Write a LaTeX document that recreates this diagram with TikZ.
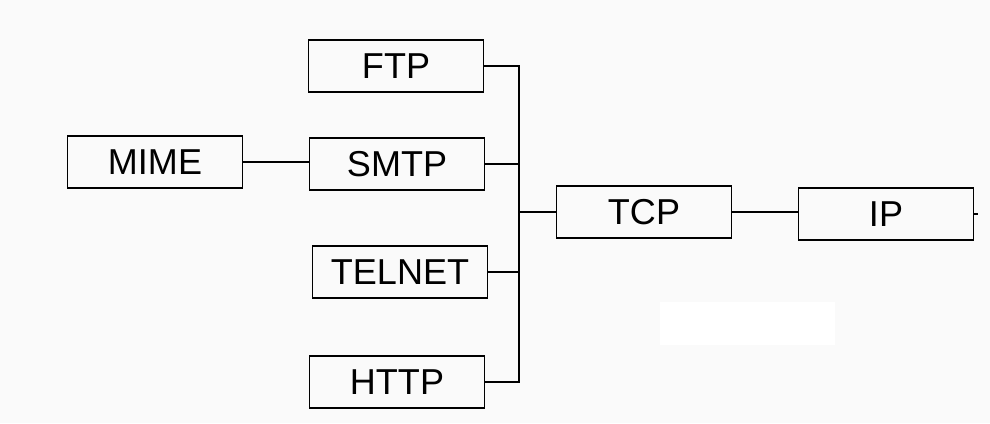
\documentclass[tikz,border=0pt]{standalone}
\usepackage{fontspec}
\setmainfont{Liberation Sans}
\tikzset{
  proto/.style={draw, line width=1.1pt, minimum width=3.5cm, minimum height=1.04cm,
    inner sep=0pt, font=\fontsize{20.5}{24}\selectfont},
  wire/.style={line width=1.1pt}
}
\begin{document}
\begin{tikzpicture}[x=0.02cm,y=-0.02cm]
	\fill[black!2] (0,0) rectangle (990,423);
	\fill[white] (660,302) rectangle (835,345);
	% application layer
	\node[proto] (MIME) at (155,162) {MIME};
	\node[proto] (FTP) at (396,66) {FTP};
	\node[proto] (SMTP) at (397,164) {SMTP};
	\node[proto] (TELNET) at (400,272) {TELNET};
	\node[proto] (HTTP) at (397,382) {HTTP};
	% transport and network
	\node[proto] (TCP) at (644,212) {TCP};
	\node[proto] (IP) at (886,214) {IP};
	\coordinate (bustop) at (519,66);
	\coordinate (busbot) at (519,382);
	\coordinate (ipend) at (978,214);
	\draw[wire] (MIME.east) -- (MIME.east -| SMTP.west);
	\draw[wire] (FTP.east) -- (bustop) -- (busbot) -- (HTTP.east);
	\draw[wire] (SMTP.east) -- (SMTP.east -| bustop);
	\draw[wire] (TELNET.east) -- (TELNET.east -| bustop);
	\draw[wire] (TCP.west) -- (TCP.west -| bustop);
	\draw[wire] (TCP.east) -- (TCP.east -| IP.west);
	\draw[wire] (IP.east) -- (ipend);
\end{tikzpicture}
\end{document}
